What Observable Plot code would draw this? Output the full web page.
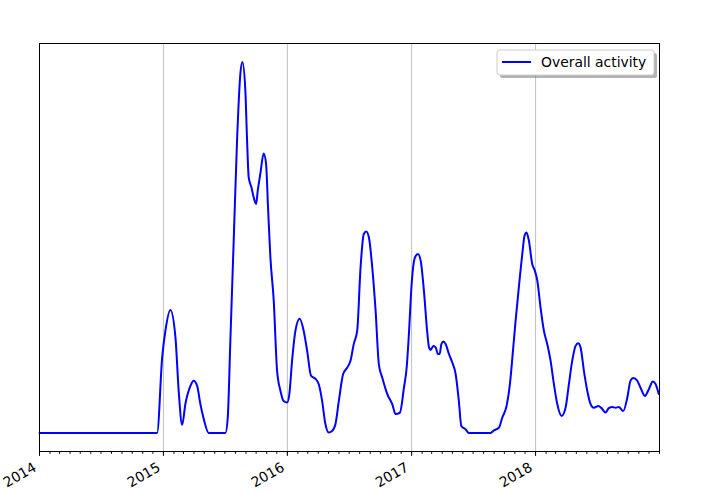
<!DOCTYPE html>
<html>
<head>
<meta charset="utf-8">
<script src="https://cdn.jsdelivr.net/npm/d3@7"></script>
<script src="https://cdn.jsdelivr.net/npm/@observablehq/plot@0.6"></script>
<style>
  html, body { margin: 0; padding: 0; background: #fff; }
  #chart { width: 703px; height: 494px; }
</style>
</head>
<body>
<div id="chart"></div>
<script>
// Time positions as decimal years
const times = [
  2014.000, 2014.949, 2014.990, 2015.016, 2015.056, 2015.097, 2015.123, 2015.151, 2015.177, 2015.218,
  2015.244, 2015.272, 2015.298, 2015.325, 2015.365, 2015.500, 2015.519, 2015.540, 2015.567, 2015.594,
  2015.621, 2015.637, 2015.661, 2015.675, 2015.688, 2015.710, 2015.728, 2015.748, 2015.761, 2015.782,
  2015.809, 2015.828, 2015.844, 2015.863, 2015.890, 2015.917, 2015.944, 2015.970, 2015.998, 2016.016,
  2016.038, 2016.065, 2016.099, 2016.131, 2016.159, 2016.191, 2016.226, 2016.252, 2016.280, 2016.306,
  2016.333, 2016.360, 2016.387, 2016.414, 2016.449, 2016.481, 2016.508, 2016.535, 2016.562, 2016.589,
  2016.615, 2016.635, 2016.656, 2016.683, 2016.710, 2016.736, 2016.764, 2016.804, 2016.844, 2016.871,
  2016.906, 2016.938, 2016.960, 2016.978, 2017.000, 2017.027, 2017.051, 2017.073, 2017.099, 2017.127,
  2017.140, 2017.153, 2017.175, 2017.194, 2017.212, 2017.226, 2017.240, 2017.256, 2017.274, 2017.301,
  2017.328, 2017.355, 2017.381, 2017.401, 2017.435, 2017.462, 2017.637, 2017.664, 2017.704, 2017.731,
  2017.766, 2017.793, 2017.820, 2017.839, 2017.865, 2017.893, 2017.911, 2017.927, 2017.946, 2017.973,
  2017.994, 2018.014, 2018.040, 2018.067, 2018.094, 2018.121, 2018.148, 2018.175, 2018.210, 2018.242,
  2018.269, 2018.296, 2018.323, 2018.344, 2018.363, 2018.390, 2018.417, 2018.444, 2018.470, 2018.506,
  2018.532, 2018.565, 2018.591, 2018.619, 2018.645, 2018.672, 2018.707, 2018.740, 2018.766, 2018.788,
  2018.820, 2018.847, 2018.882, 2018.914, 2018.946, 2018.968, 2018.994
];
// Overall activity values (relative units)
const activity = [
  0, 0, 20.4, 27.6, 33.2, 25.8, 11.4, 2.2, 7.8, 12.7,
  14.1, 12.7, 7.8, 3.8, 0, 0, 4.1, 24.9, 51.9, 78.9,
  97.0, 100.1, 92.4, 78.9, 69.0, 66.3, 63.6, 61.8, 65.4, 70.0,
  75.4, 72.7, 60.9, 47.4, 35.7, 16.8, 11.4, 8.6, 8.2, 10.5,
  19.5, 27.6, 30.8, 27.6, 22.2, 15.4, 14.6, 13.2, 8.6, 2.4,
  0.1, 0.5, 2.4, 8.6, 15.9, 17.6, 19.5, 24.1, 27.6, 44.7,
  53.7, 54.4, 52.8, 44.7, 33.0, 18.6, 14.9, 10.5, 7.8, 5.1,
  5.5, 12.2, 17.6, 26.7, 40.2, 47.4, 48.3, 46.5, 38.4, 26.8,
  23.1, 22.4, 23.5, 23.1, 21.3, 21.3, 24.0, 24.7, 24.0, 21.3,
  19.0, 15.9, 8.6, 1.9, 1.0, 0, 0, 0.7, 1.4, 4.1,
  7.3, 13.2, 23.1, 30.3, 39.3, 48.3, 53.2, 54.1, 51.9, 45.6,
  43.8, 41.1, 33.9, 27.6, 24.0, 19.5, 13.2, 7.8, 4.6, 6.8,
  13.2, 19.5, 23.5, 24.2, 23.1, 16.8, 11.4, 7.8, 6.8, 7.3,
  6.7, 5.5, 6.7, 7.0, 6.8, 7.0, 5.9, 9.5, 14.1, 14.8,
  14.1, 12.2, 10.0, 11.8, 13.9, 13.2, 10.5
];
const yearLabels = ["2014", "2015", "2016", "2017", "2018"];
const seriesName = "Overall activity";

function decimalYearToDate(t) {
  const y = Math.floor(t);
  const start = Date.UTC(y, 0, 1), end = Date.UTC(y + 1, 0, 1);
  return new Date(start + (t - y) * (end - start));
}

const data = times.map((t, i) => ({date: decimalYearToDate(t), value: activity[i]}));
const yearTicks = yearLabels.map(s => new Date(Date.UTC(+s, 0, 1)));
const labelData = yearLabels.map((s, i) => ({date: yearTicks[i], label: s}));
const xStart = new Date(Date.UTC(2014, 0, 1));
const xEnd = new Date(Date.UTC(2019, 0, 1));
const monthTicks = d3.utcMonth.range(xStart, d3.utcDay.offset(xEnd, 1));
const gridTicks = d3.utcYear.range(xStart, d3.utcDay.offset(xEnd, 1));

const vmax = d3.max(activity);
const font = "DejaVu Sans, sans-serif";

const chart = Plot.plot({
  width: 703,
  height: 494,
  marginLeft: 39,
  marginRight: 44,
  marginTop: 43,
  marginBottom: 43,
  style: {fontFamily: font, background: "#fff", overflow: "visible"},
  x: {type: "utc", domain: [xStart, xEnd]},
  y: {domain: [-0.05 * vmax, 1.05 * vmax], axis: null},
  marks: [
    Plot.ruleX(gridTicks, {stroke: "#b0b0b0", strokeWidth: 0.8}),
    Plot.line(data, {x: "date", y: "value", stroke: "#0000ff", strokeWidth: 2, curve: "monotone-x"}),
    Plot.frame({stroke: "#000", strokeWidth: 1}),
    Plot.axisX({ticks: monthTicks, tickSize: 2.8, tickFormat: () => "", stroke: "#000"}),
    Plot.axisX({ticks: yearTicks, tickSize: 4.9, tickFormat: () => "", stroke: "#000"}),
    Plot.text(labelData, {x: "date", text: "label", frameAnchor: "bottom", dx: -7, dy: 10,
      rotate: -30, textAnchor: "end", lineAnchor: "top", fontSize: 13.9, fill: "#000"})
  ]
});

document.getElementById("chart").appendChild(chart);

// Legend (matplotlib style, upper right, with shadow)
const svg = d3.select(chart);
const lg = svg.append("g").attr("font-family", font).attr("font-size", 13.9).attr("text-anchor", "start");
const lx = 497, ly = 50, lw = 157, lh = 25;
lg.append("rect").attr("x", lx + 3).attr("y", ly + 3).attr("width", lw).attr("height", lh)
  .attr("rx", 2.5).attr("fill", "#808080").attr("fill-opacity", 0.6);
lg.append("rect").attr("x", lx).attr("y", ly).attr("width", lw).attr("height", lh)
  .attr("rx", 2.5).attr("fill", "#fff").attr("stroke", "#cccccc").attr("stroke-width", 1);
lg.append("line").attr("x1", lx + 5).attr("x2", lx + 34).attr("y1", ly + 12).attr("y2", ly + 12)
  .attr("stroke", "#0000ff").attr("stroke-width", 2);
lg.append("text").attr("x", lx + 44).attr("y", ly + 16.5).attr("fill", "#000")
  .attr("text-anchor", "start").text(seriesName);
</script>
</body>
</html>
